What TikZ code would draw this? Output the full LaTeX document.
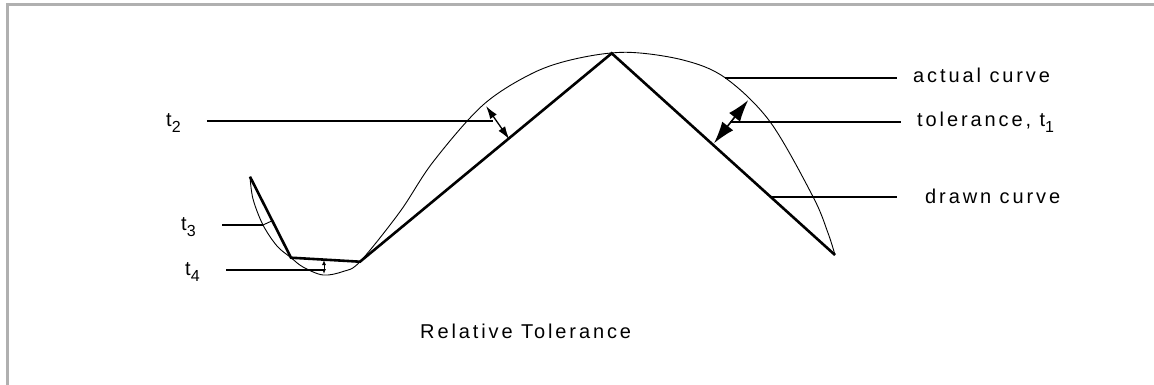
\documentclass[tikz,border=0pt]{standalone}
\usepackage{fontspec}
\setmainfont{Liberation Sans}
\usepackage{xcolor}
\usepackage{tikz}
\usetikzlibrary{arrows.meta,positioning}
\definecolor{framegray}{RGB}{176,176,176}
\newfontfamily\lblfont[LetterSpace=14.5]{Liberation Sans}
\newcommand{\lblsub}[1]{\raisebox{-0.3em}{\fontsize{16}{16}\selectfont #1}}

\begin{document}
\begin{tikzpicture}[x=1pt, y=-1pt, >=Latex,
    lbl/.style={anchor=base west, inner sep=0pt, font=\lblfont\fontsize{20}{22}\selectfont},
    leader/.style={line width=2.2pt},
    drawn/.style={line width=2.6pt, line join=miter},
    actual/.style={line width=0.9pt},
    tolarrow/.style={line width=1.6pt}]
    \useasboundingbox (0,0) rectangle (1154,385);

    % Frame
    \draw[framegray, line width=2.6pt] (7.3,385) -- (7.3,4.5) -- (1154,4.5);

    % Drawn curve (chords)
    \coordinate (p0) at (250,176.7);
    \coordinate (p1) at (291,257.7);
    \coordinate (p2) at (360,261.7);
    \coordinate (p3) at (611.7,53.3);
    \coordinate (p4) at (835,255);
    \draw[drawn] (p0) -- (p1) -- (p2) -- (p3) -- (p4);

    % Actual curve
    \draw[actual] plot[smooth, tension=0.55] coordinates {
        (250,176.7) (253,199) (263,225) (277,246) (291,257.7)
        (303,267) (323,275) (343,271.5) (360,261.7)
        (400,211.7) (433,162) (483,105) (533,73) (577,58.5)
        (627,52.3) (683,60) (725,77.7) (770,121.7)
        (813,196.7) (828,233) (835,255)};

    % Tolerance markers
    \draw[tolarrow, {Latex[length=22pt,width=14pt]}-{Latex[length=22pt,width=14pt]}]
        (748.3,100) -- (714,143.3);
    \draw[line width=1.3pt, {Latex[length=13pt,width=8pt]}-{Latex[length=13pt,width=8pt]}]
        (486,106) -- (509.3,139.3);
    \draw[line width=0.9pt] (263,225) -- (271.7,221);
    \draw[line width=1pt, {Latex[length=5pt,width=4pt]}-{Latex[length=5pt,width=4pt]}]
        (324,260) -- (324,274);

    % Labels on the right
    \coordinate (aActual) at (725,78);
    \coordinate (eActual) at (897,78);
    \node[lbl] (lActual) at (913,83) {actual curve};
    \draw[leader] (aActual) -- (eActual);

    \coordinate (aTol) at (730,122);
    \coordinate (eTol) at (901,122);
    \node[lbl] (lTol) at (917,127) {tolerance, t\lblsub{1}};
    \draw[leader] (aTol) -- (eTol);

    \coordinate (aDrawn) at (772,197);
    \coordinate (eDrawn) at (897,197);
    \node[lbl] (lDrawn) at (925,204) {drawn curve};
    \draw[leader] (aDrawn) -- (eDrawn);

    % Labels on the left
    \node[lbl] (lTtwo) at (166,127) {t\lblsub{2}};
    \coordinate (aTtwo) at (493,121);
    \draw[leader] (lTtwo.base east) ++(26,-6) coordinate (eTtwo) -- (aTtwo);

    \node[lbl] (lTthree) at (181,230) {t\lblsub{3}};
    \coordinate (aTthree) at (263,225);
    \coordinate (eTthree) at (222,225);
    \draw[leader] (eTthree) -- (aTthree);

    \node[lbl] (lTfour) at (185,275) {t\lblsub{4}};
    \coordinate (aTfour) at (325,270);
    \coordinate (eTfour) at (226,270);
    \draw[leader] (eTfour) -- (aTfour);

    % Caption
    \node[lbl] (caption) at (420,338) {Relative Tolerance};
\end{tikzpicture}
\end{document}
